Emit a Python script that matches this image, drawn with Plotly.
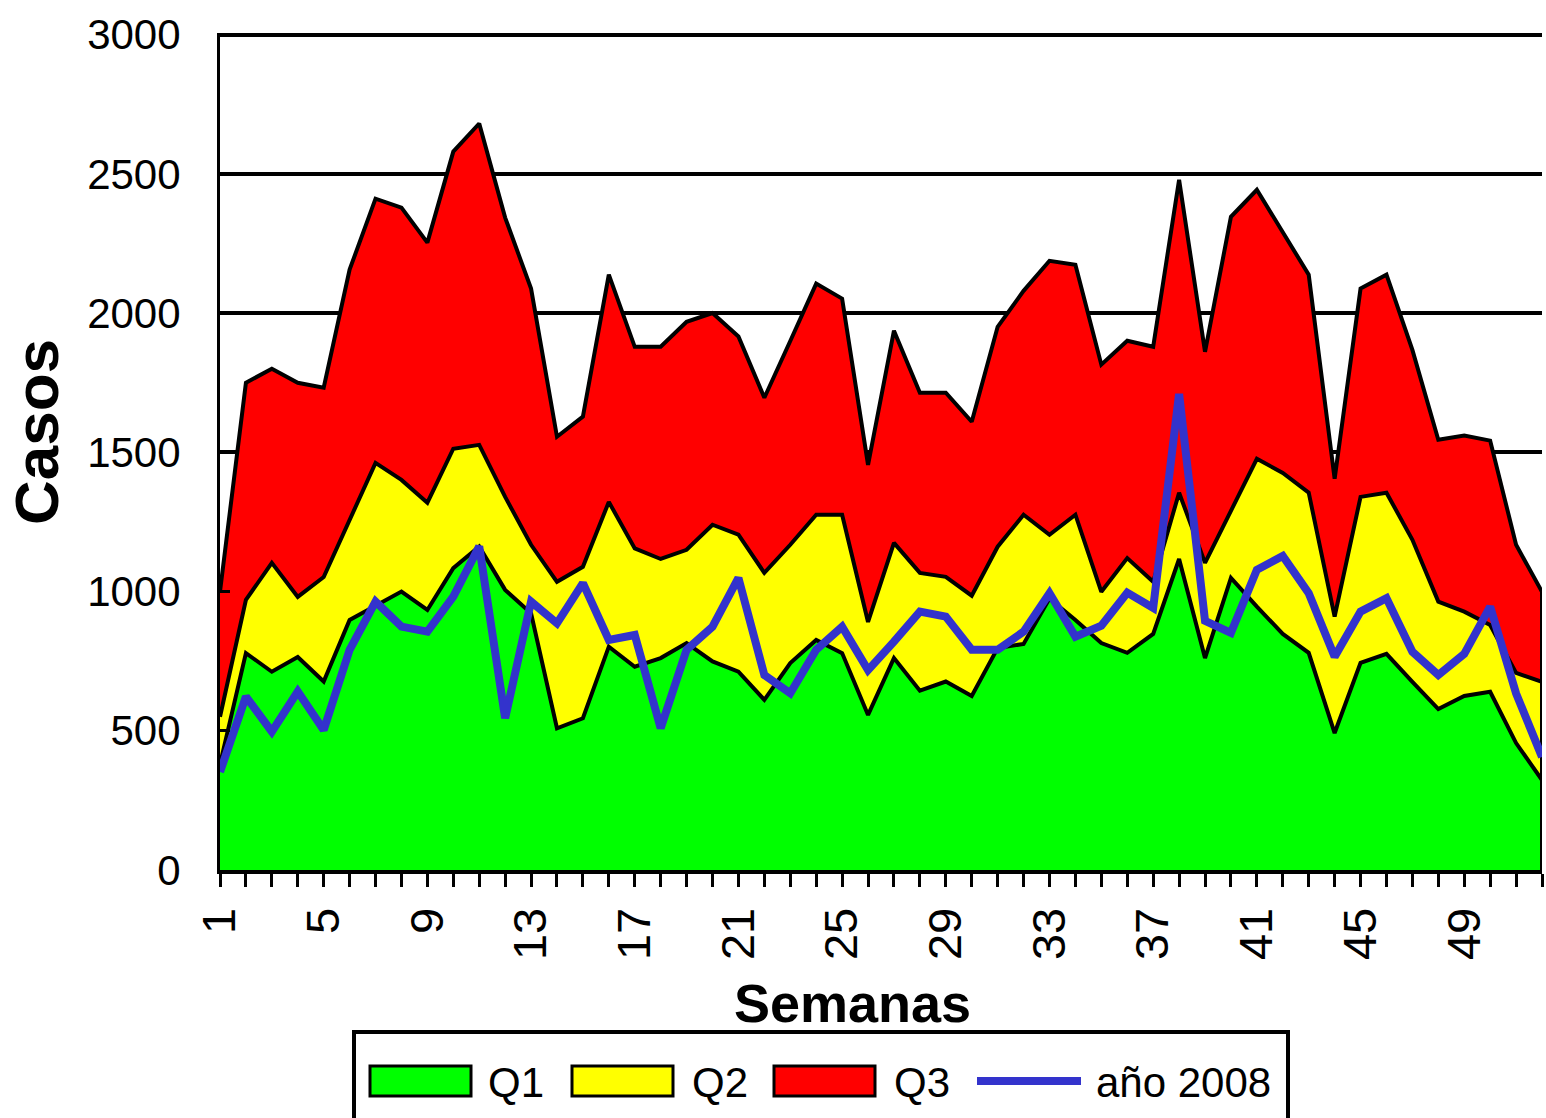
import plotly.graph_objects as go

# ---------------- data ----------------
weeks = list(range(1, 53))

q1 = [380, 779, 712, 765, 677, 898, 949, 1000, 934, 1084,
      1162, 1006, 922, 509, 545, 802, 730, 761, 815, 749,
      712, 611, 743, 826, 779, 557, 761, 644, 677, 625,
      797, 812, 975, 898, 815, 780, 848, 1117, 761, 1049,
      946, 848, 780, 492, 744, 776, 676, 578, 625, 640,
      456, 323]

q2 = [550, 970, 1103, 981, 1052, 1258, 1462, 1401, 1319, 1513,
      1527, 1340, 1168, 1035, 1089, 1322, 1155, 1117, 1150, 1240,
      1204, 1067, 1168, 1276, 1276, 891, 1175, 1067, 1053, 985,
      1161, 1276, 1204, 1276, 999, 1120, 1035, 1355, 1103, 1290,
      1477, 1426, 1355, 910, 1340, 1355, 1186, 964, 928, 880,
      708, 676]

q3 = [1000, 1750, 1800, 1750, 1732, 2156, 2411, 2379, 2253, 2580,
      2681, 2343, 2088, 1556, 1628, 2138, 1879, 1879, 1969, 2000,
      1916, 1696, 1900, 2106, 2052, 1455, 1937, 1714, 1714, 1610,
      1951, 2080, 2188, 2174, 1815, 1901, 1879, 2479, 1861, 2346,
      2443, 2289, 2138, 1405, 2088, 2138, 1868, 1545, 1560, 1542,
      1168, 999]

y2008 = [352, 623, 497, 641, 503, 791, 964, 874, 856, 982,
         1162, 545, 964, 886, 1030, 826, 844, 509, 791, 874,
         1049, 700, 635, 791, 874, 718, 820, 928, 910, 791,
         791, 856, 994, 838, 877, 996, 941, 1710, 895, 852,
         1078, 1128, 994, 766, 928, 976, 784, 700, 776, 946,
         634, 406]

labeled_weeks = [1, 5, 9, 13, 17, 21, 25, 29, 33, 37, 41, 45, 49]
y_ticks = [0, 500, 1000, 1500, 2000, 2500, 3000]

series_names = ["Q1", "Q2", "Q3", "año 2008"]
series_colors = ["#00FF00", "#FFFF00", "#FF0000", "#3333CC"]

# ---------------- figure ----------------
FONT = "Arial, 'Liberation Sans', sans-serif"
W, H = 1546, 1118
ML, MR, MT, MB = 220, 4, 33, 248
PW, PH = W - ML - MR, H - MT - MB


def px2x(px):
    return (px - ML) / PW


def px2y(py):
    return (H - MB - py) / PH


fig = go.Figure()

# areas drawn largest first so smaller ones sit on top
for name, vals, col in [("Q3", q3, series_colors[2]),
                        ("Q2", q2, series_colors[1]),
                        ("Q1", q1, series_colors[0])]:
    fig.add_trace(go.Scatter(
        x=weeks, y=vals, name=name, mode="lines",
        fill="tozeroy", fillcolor=col,
        line=dict(color="black", width=4),
        showlegend=False, hoverinfo="x+y+name"))

# closing edge of the areas at the last week
fig.add_trace(go.Scatter(
    x=[weeks[-1], weeks[-1]], y=[0, q3[-1]], mode="lines",
    line=dict(color="black", width=4), showlegend=False, hoverinfo="skip"))

fig.add_trace(go.Scatter(
    x=weeks, y=y2008, name="año 2008", mode="lines",
    line=dict(color=series_colors[3], width=8),
    showlegend=False))

ticktext = [str(w) if w in labeled_weeks else "" for w in weeks]

fig.update_xaxes(
    range=[weeks[0], weeks[-1]],
    tickmode="array", tickvals=weeks, ticktext=ticktext,
    tickangle=-90,
    ticks="outside", ticklen=13, tickwidth=3, tickcolor="black",
    showline=True, linecolor="black", linewidth=4,
    showgrid=False, zeroline=False,
    tickfont=dict(family=FONT, size=47, color="black"),
    ticklabelstandoff=2,
)
fig.update_yaxes(
    range=[0, 3006],
    tickmode="array", tickvals=y_ticks,
    ticks="inside", ticklen=10, tickwidth=3, tickcolor="black",
    showline=True, linecolor="black", linewidth=3,
    showgrid=True, gridcolor="black", gridwidth=4,
    zeroline=False,
    tickfont=dict(family=FONT, size=42, color="black"),
    ticklabelstandoff=28,
)

annotations = [
    dict(text="<b>Casos</b>", x=px2x(37), y=px2y(432), xref="paper", yref="paper",
         textangle=-90, showarrow=False, xanchor="center", yanchor="middle",
         font=dict(family=FONT, size=62, color="black")),
    dict(text="<b>Semanas</b>", x=px2x(852), y=px2y(1003), xref="paper", yref="paper",
         showarrow=False, xanchor="center", yanchor="middle",
         font=dict(family=FONT, size=54, color="black")),
]

# custom legend (box, swatches, labels)
shapes = [dict(type="rect", xref="paper", yref="paper",
               x0=px2x(354), x1=px2x(1288), y0=px2y(1140), y1=px2y(1032),
               line=dict(color="black", width=4), fillcolor="white", layer="above")]
sw_left = [370, 572, 774]
txt_left = [486, 690, 892, 1094]
for i in range(3):
    shapes.append(dict(type="rect", xref="paper", yref="paper",
                       x0=px2x(sw_left[i]), x1=px2x(sw_left[i] + 101),
                       y0=px2y(1096), y1=px2y(1066),
                       line=dict(color="black", width=3),
                       fillcolor=series_colors[i], layer="above"))
shapes.append(dict(type="line", xref="paper", yref="paper",
                   x0=px2x(977), x1=px2x(1081), y0=px2y(1081), y1=px2y(1081),
                   line=dict(color=series_colors[3], width=8), layer="above"))
for i, name in enumerate(series_names):
    annotations.append(dict(text=name, x=px2x(txt_left[i]), y=px2y(1082),
                            xref="paper", yref="paper", showarrow=False,
                            xanchor="left", yanchor="middle",
                            font=dict(family=FONT, size=42, color="black")))

fig.update_layout(
    width=W, height=H,
    margin=dict(l=ML, r=MR, t=MT, b=MB),
    plot_bgcolor="white", paper_bgcolor="white",
    showlegend=False,
    annotations=annotations, shapes=shapes,
    font=dict(family=FONT, color="black"),
)

fig.write_html(
    "out.html",
    config={"displayModeBar": False},
    post_script="document.body.style.margin='0px';document.body.style.overflow='hidden';",
)
